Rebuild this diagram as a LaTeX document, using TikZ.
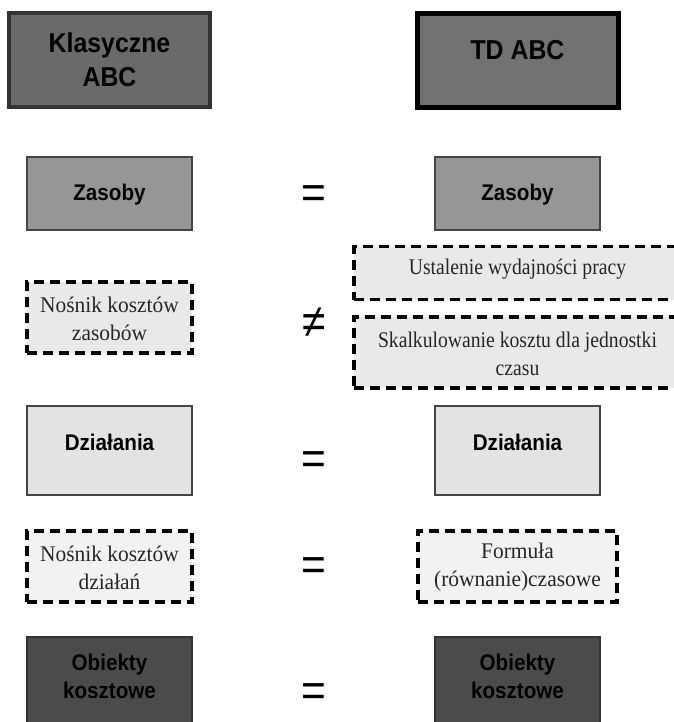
\documentclass[tikz,border=0pt]{standalone}
\usepackage{fontspec}
\setmainfont{Liberation Serif}
\newfontfamily\sansf[FakeStretch=0.91]{Liberation Sans}
\newfontfamily\serf[FakeStretch=0.96]{Liberation Serif}
\newfontfamily\serfn[FakeStretch=0.88]{Liberation Serif}
\definecolor{klfill}{HTML}{6A6A6A}
\definecolor{klline}{HTML}{333333}
\definecolor{tdfill}{HTML}{727272}
\definecolor{zfill}{HTML}{969696}
\definecolor{boxline}{HTML}{444444}
\definecolor{dfill}{HTML}{E3E3E3}
\definecolor{lightA}{HTML}{E9E9E9}
\definecolor{lightB}{HTML}{F2F2F2}
\definecolor{ofill}{HTML}{4B4B4B}
\tikzset{
  base/.style={rectangle, inner sep=0pt, align=center},
  solidbox/.style={base, draw=boxline, line width=1.5pt, minimum width=123.75pt},
  dashbox/.style={base, draw=black, line width=2.6pt, dash pattern=on 7.5pt off 4.5pt},
  headtxt/.style={base, font=\sansf\bfseries\fontsize{20.5}{25.5}\selectfont, text=black},
  boldtxt/.style={base, font=\sansf\bfseries\fontsize{17}{21}\selectfont, text=black},
  sertxt/.style={base, font=\serf\fontsize{16.75}{21}\selectfont, text=black!85},
  sertxtn/.style={base, font=\serfn\fontsize{16.75}{21}\selectfont, text=black!85},
  eqsign/.style={base, font=\sansf\fontsize{35}{35}\selectfont, text=black}
}
\begin{document}
\begin{tikzpicture}[x=0.75pt,y=-0.75pt]
\useasboundingbox (0,0) rectangle (674,722);
\clip (0,0) rectangle (674,722);
% header boxes
\node[base, fill=klfill, draw=klline, line width=3pt, minimum width=150.75pt, minimum height=70.5pt] (kl) at (109.5,60) {};
\node[headtxt] (klT) at (109.5,60) {Klasyczne\\ABC};
\node[base, fill=tdfill, draw=black, line width=3.75pt, minimum width=150.75pt, minimum height=70.5pt] (td) at (517.5,60) {};
\node[headtxt] (tdT) at (517.5,50) {TD ABC};
% Zasoby
\node[solidbox, fill=zfill, minimum height=54.75pt] (zl) at (109.5,193.5) {};
\node[boldtxt] (zlT) at (109.5,195) {Zasoby};
\node[solidbox, fill=zfill, minimum height=54.75pt] (zr) at (517.5,193.5) {};
\node[boldtxt] (zrT) at (517.5,195) {Zasoby};
\node[eqsign] (eq1) at (314,197) {=};
% Nosnik zasobow / right pair
\node[dashbox, fill=lightA, minimum width=123.75pt, minimum height=53.25pt] (nz) at (109.5,317.5) {};
\node[sertxt] (nzT) at (109.5,319) {Nośnik kosztów\\zasobów};
\node[eqsign] (neq) at (314,323) {≠};
\node[dashbox, fill=lightA, minimum width=245.25pt, minimum height=39.75pt] (ust) at (517.5,273) {};
\node[sertxtn] (ustT) at (517.5,269) {Ustalenie wydajności pracy};
\node[dashbox, fill=lightA, minimum width=245.25pt, minimum height=53.25pt] (sk) at (517.5,352.5) {};
\node[sertxtn] (skT) at (517.5,354) {Skalkulowanie kosztu dla jednostki\\czasu};
% Dzialania
\node[solidbox, fill=dfill, minimum height=66.75pt] (dl) at (109.5,450.5) {};
\node[boldtxt] (dlT) at (109.5,442) {Działania};
\node[solidbox, fill=dfill, minimum height=66.75pt] (dr) at (517.5,450.5) {};
\node[boldtxt] (drT) at (517.5,442) {Działania};
\node[eqsign] (eq2) at (314,463) {=};
% Nosnik dzialan / Formula
\node[dashbox, fill=lightB, minimum width=123.75pt, minimum height=53.25pt] (nd) at (109.5,566.5) {};
\node[sertxt] (ndT) at (109.5,567.5) {Nośnik kosztów\\działań};
\node[dashbox, fill=lightB, minimum width=149.25pt, minimum height=53.25pt] (fo) at (517.5,566.5) {};
\node[sertxt] (foT) at (517.5,567.5) {Formuła\\(równanie)czasowe};
\node[eqsign] (eq3) at (314,569) {=};
% Obiekty
\node[solidbox, draw=klline, fill=ofill, minimum height=73.5pt] (ol) at (109.5,686) {};
\node[boldtxt] (olT) at (109.5,676) {Obiekty\\kosztowe};
\node[solidbox, draw=klline, fill=ofill, minimum height=73.5pt] (or) at (517.5,686) {};
\node[boldtxt] (orT) at (517.5,676) {Obiekty\\kosztowe};
\node[eqsign] (eq4) at (314,695) {=};
\end{tikzpicture}
\end{document}
